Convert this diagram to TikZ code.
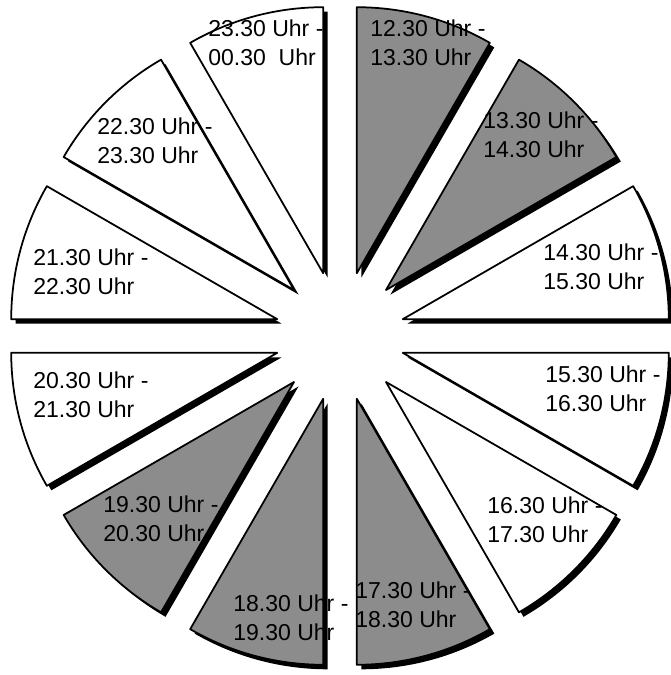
\documentclass[tikz,border=0pt]{standalone}
\usepackage{fontspec}
\setmainfont{Liberation Sans}
\usepackage{tikz}
\usepackage{xcolor}

\begin{document}
\begin{tikzpicture}[line cap=round,line join=round,x=0.02cm,y=0.02cm,
		schatten/.style={fill=black,xshift=0.09cm,yshift=-0.09cm},
		hell/.style={draw=black,line width=1pt,fill=white},
		dunkel/.style={draw=black,line width=1pt,fill=black!45},
		zeit/.style={anchor=west,align=left,inner sep=0pt,font=\fontsize{13.1}{16.6}\selectfont}]
			\useasboundingbox (-340,-339) rectangle (330,336);
			% 12.30 - 13.30
			\fill[schatten] (75:65) -- ++(60:266) arc (60:90:266) -- cycle;
			\filldraw[dunkel] (75:65) -- ++(60:266) arc (60:90:266) -- cycle;
			% 13.30 - 14.30
			\fill[schatten] (45:65) -- ++(30:266) arc (30:60:266) -- cycle;
			\filldraw[dunkel] (45:65) -- ++(30:266) arc (30:60:266) -- cycle;
			% 14.30 - 15.30
			\fill[schatten] (15:65) -- ++(0:266) arc (0:30:266) -- cycle;
			\filldraw[hell] (15:65) -- ++(0:266) arc (0:30:266) -- cycle;
			% 15.30 - 16.30
			\fill[schatten] (-15:65) -- ++(-30:266) arc (-30:0:266) -- cycle;
			\filldraw[hell] (-15:65) -- ++(-30:266) arc (-30:0:266) -- cycle;
			% 16.30 - 17.30
			\fill[schatten] (-45:65) -- ++(-60:266) arc (-60:-30:266) -- cycle;
			\filldraw[hell] (-45:65) -- ++(-60:266) arc (-60:-30:266) -- cycle;
			% 17.30 - 18.30
			\fill[schatten] (-75:65) -- ++(-90:266) arc (-90:-60:266) -- cycle;
			\filldraw[dunkel] (-75:65) -- ++(-90:266) arc (-90:-60:266) -- cycle;
			% 18.30 - 19.30
			\fill[schatten] (-105:65) -- ++(-120:266) arc (-120:-90:266) -- cycle;
			\filldraw[dunkel] (-105:65) -- ++(-120:266) arc (-120:-90:266) -- cycle;
			% 19.30 - 20.30
			\fill[schatten] (-135:65) -- ++(-150:266) arc (-150:-120:266) -- cycle;
			\filldraw[dunkel] (-135:65) -- ++(-150:266) arc (-150:-120:266) -- cycle;
			% 20.30 - 21.30
			\fill[schatten] (195:65) -- ++(180:266) arc (180:210:266) -- cycle;
			\filldraw[hell] (195:65) -- ++(180:266) arc (180:210:266) -- cycle;
			% 21.30 - 22.30
			\fill[schatten] (165:65) -- ++(150:266) arc (150:180:266) -- cycle;
			\filldraw[hell] (165:65) -- ++(150:266) arc (150:180:266) -- cycle;
			% 22.30 - 23.30
			\fill[schatten] (135:65) -- ++(120:266) arc (120:150:266) -- cycle;
			\filldraw[hell] (135:65) -- ++(120:266) arc (120:150:266) -- cycle;
			% 23.30 - 00.30
			\fill[schatten] (105:65) -- ++(90:266) arc (90:120:266) -- cycle;
			\filldraw[hell] (105:65) -- ++(90:266) arc (90:120:266) -- cycle;
			% Beschriftung
			\node[zeit] (z1230) at (30,293) {12.30 Uhr -\\13.30 Uhr};
			\node[zeit] (z1330) at (143,201) {13.30 Uhr -\\14.30 Uhr};
			\node[zeit] (z1430) at (203,69) {14.30 Uhr -\\15.30 Uhr};
			\node[zeit] (z1530) at (205,-53) {15.30 Uhr -\\16.30 Uhr};
			\node[zeit] (z1630) at (147,-184) {16.30 Uhr -\\17.30 Uhr};
			\node[zeit] (z1730) at (15,-269) {17.30 Uhr -\\18.30 Uhr};
			\node[zeit] (z1830) at (-107,-282) {18.30 Uhr -\\19.30 Uhr};
			\node[zeit] (z1930) at (-237,-183) {19.30 Uhr -\\20.30 Uhr};
			\node[zeit] (z2030) at (-307,-59) {20.30 Uhr -\\21.30 Uhr};
			\node[zeit] (z2130) at (-307,64) {21.30 Uhr -\\22.30 Uhr};
			\node[zeit] (z2230) at (-243,195) {22.30 Uhr -\\23.30 Uhr};
			\node[zeit] (z2330) at (-132,293) {23.30 Uhr -\\00.30\ \ Uhr};
		\end{tikzpicture}
\end{document}
